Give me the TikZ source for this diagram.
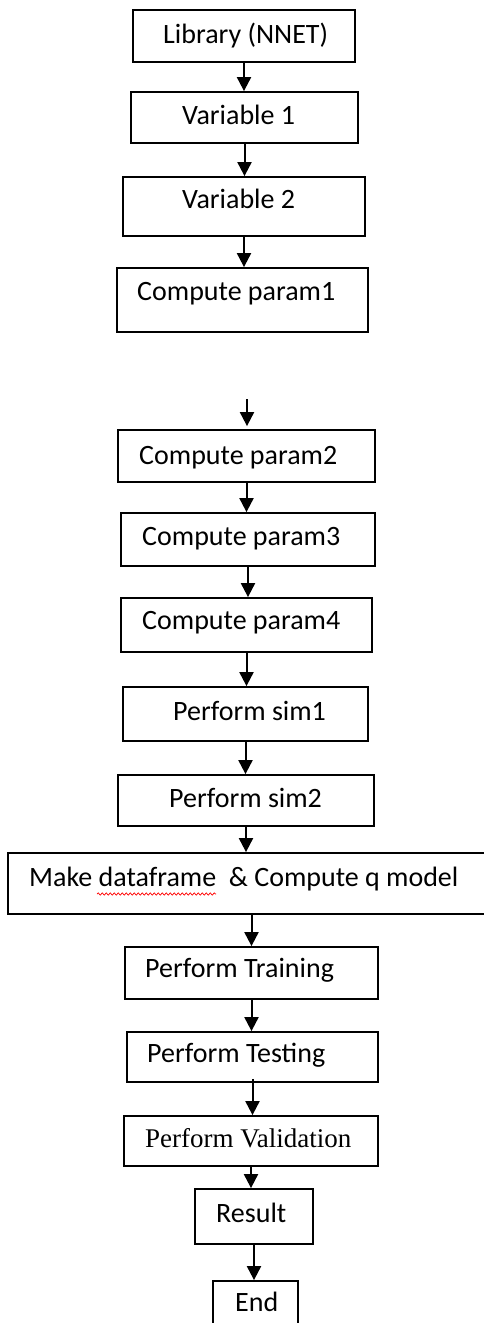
\documentclass[tikz,border=0pt]{standalone}
\usepackage{fontspec}
\setmainfont{Carlito}
\newfontfamily\tnr{Liberation Serif}
\usetikzlibrary{arrows.meta,fit,decorations.pathmorphing}
\tikzset{
  box/.style={draw=black, line width=1.8pt, inner sep=0pt, fill=none},
  lbl/.style={anchor=base west, inner sep=0pt, font=\fontsize{28}{33}\selectfont, text=black},
  arr/.style={line width=2pt, -{Triangle[width=14pt,length=14pt]}}
}
\begin{document}
\begin{tikzpicture}[x=1pt,y=-1pt]
\useasboundingbox (0,0) rectangle (484,1323);
\fill[white] (0,0) rectangle (484,1323);
\clip (0,0) rectangle (484,1323);
% boxes
\node[box, fit={(133,10) (355,62)}] (lib) {};
\node[box, fit={(131,92) (358,143)}] (v1) {};
\node[box, fit={(123,177) (365,236)}] (v2) {};
\node[box, fit={(117,268) (368,332)}] (p1) {};
\node[box, fit={(118,430) (375,482)}] (p2) {};
\node[box, fit={(121,513) (375,566)}] (p3) {};
\node[box, fit={(121,598) (372,652)}] (p4) {};
\node[box, fit={(123,687) (368,741)}] (s1) {};
\node[box, fit={(118,775) (374,826)}] (s2) {};
\node[box, fit={(8,853) (490,914)}] (mk) {};
\node[box, fit={(125,947) (378,999)}] (tr) {};
\node[box, fit={(127,1032) (378,1082)}] (te) {};
\node[box, fit={(124,1116) (378,1166)}] (va) {};
\node[box, fit={(195,1189) (313,1244)}] (re) {};
\node[box, fit={(213,1281) (298,1335)}] (en) {};
% texts
\node[lbl] (tlib) at (163,43) {Library (NNET)};
\node[lbl] (tv1) at (182,124) {Variable 1};
\node[lbl] (tv2) at (182,208) {Variable 2};
\node[lbl] (tp1) at (137,300) {Compute param1};
\node[lbl] (tp2) at (139,464) {Compute param2};
\node[lbl] (tp3) at (142,545) {Compute param3};
\node[lbl] (tp4) at (142,629) {Compute param4};
\node[lbl] (ts1) at (173,720) {Perform sim1};
\node[lbl] (ts2) at (169,807) {Perform sim2};
\node[lbl] (tmk) at (29,886) {Make dataframe\ \ \& Compute q model};
\node[lbl] (ttr) at (145,977) {Perform Training};
\node[lbl] (tte) at (147,1062) {Perform Testing};
\node[lbl, font=\tnr\fontsize{27}{32}\selectfont] (tva) at (145,1147) {Perform Validation};
\node[lbl] (tre) at (216,1222) {Result};
\node[lbl] (ten) at (235,1311) {End};
% spell-check underline
\draw[red, line width=0.7pt, decorate, decoration={snake, amplitude=1.1pt, segment length=4pt}] (97,894) -- (216,894);
% connectors
\coordinate (free) at (247,399);
\draw[arr] (lib.south) -- (lib.south |- v1.north);
\draw[arr] (v1.south) -- (v1.south |- v2.north);
\draw[arr] (v2.south) -- (v2.south |- p1.north);
\draw[arr] (free) -- ([yshift=3pt]free |- p2.north);
\draw[arr] (p2.south) -- (p2.south |- p3.north);
\draw[arr] (p3.south) -- (p3.south |- p4.north);
\draw[arr] (p4.south) -- (p4.south |- s1.north);
\draw[arr] (s1.south) -- (s1.south |- s2.north);
\draw[arr] (s2.south) -- (s2.south |- mk.north);
\draw[arr] (tr.north |- mk.south) -- (tr.north);
\draw[arr] (tr.south) -- (tr.south |- te.north);
\draw[arr] ([yshift=4pt]te.south) -- (te.south |- va.north);
\draw[arr] (va.south) -- (va.south |- re.north);
\draw[arr] (re.south) -- (re.south |- en.north);
\end{tikzpicture}
\end{document}
